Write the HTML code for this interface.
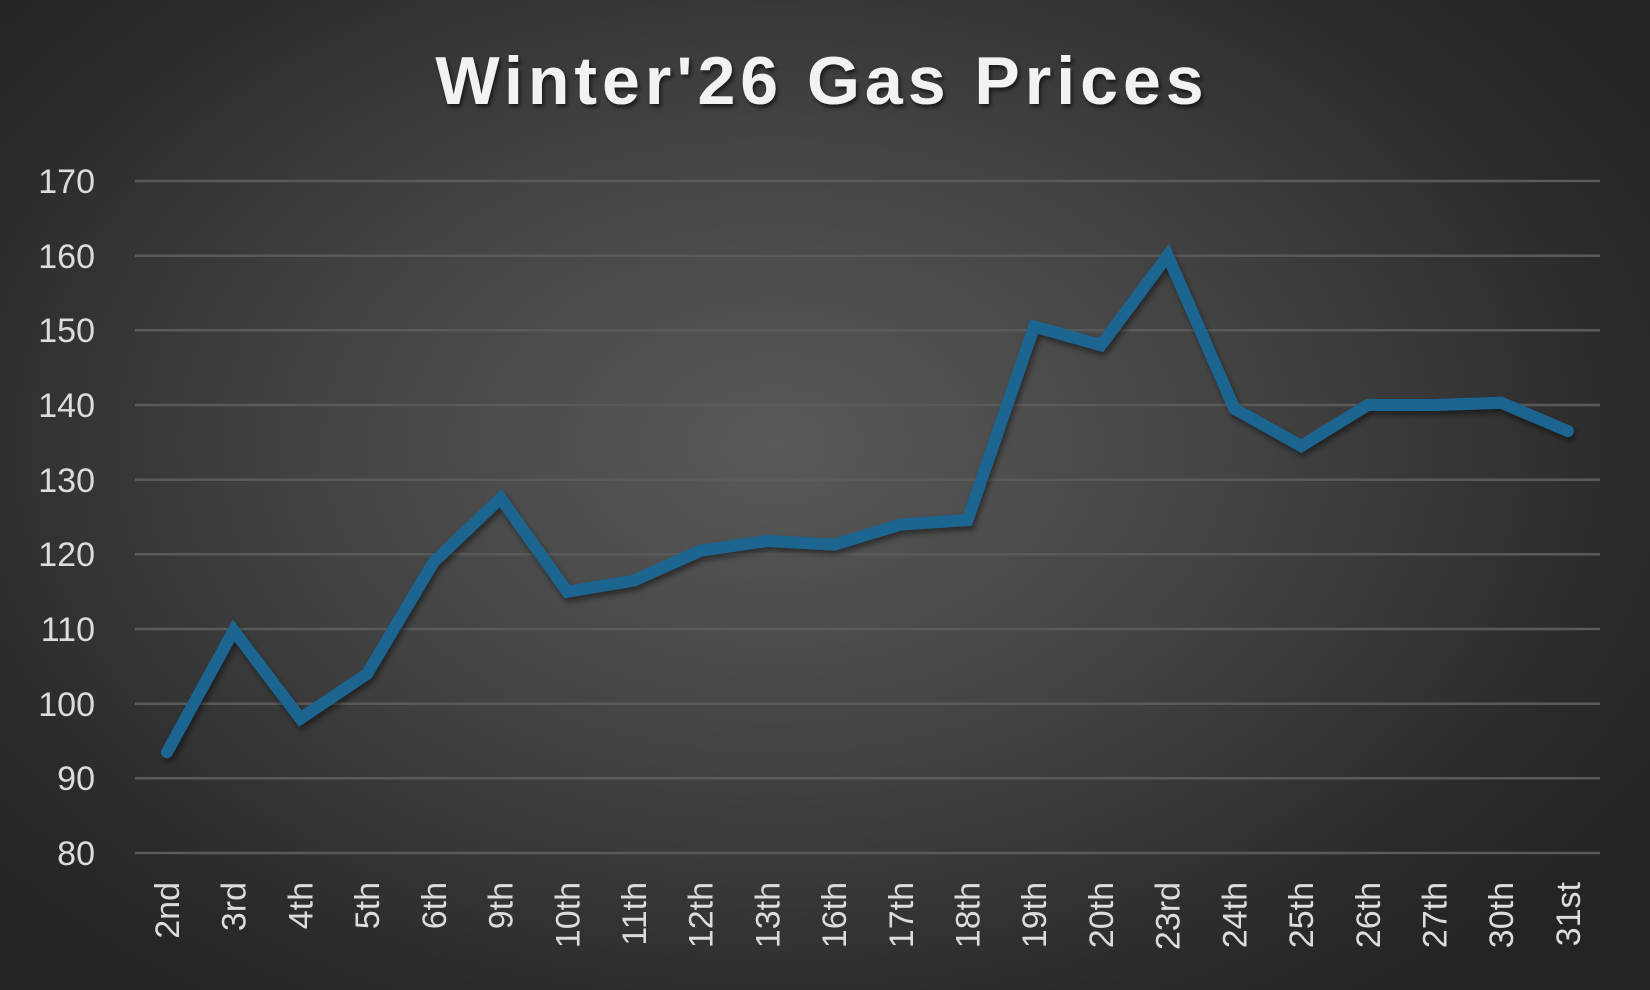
<!DOCTYPE html>
<html><head><meta charset="utf-8"><style>
html,body{margin:0;padding:0;}
body{width:1650px;height:990px;overflow:hidden;background:radial-gradient(ellipse 62% 70% at 47% 45%,#595959 0%,#434343 45%,#2a2a2a 85%,#242424 100%);}
svg{display:block;}
</style></head><body>
<svg width="1650" height="990" xmlns="http://www.w3.org/2000/svg" font-family="Liberation Sans, DejaVu Sans, sans-serif">
<defs><filter id="sh" x="-10%" y="-20%" width="120%" height="150%"><feDropShadow dx="2" dy="3" stdDeviation="2" flood-color="#000" flood-opacity="0.6"/></filter>
<filter id="ls" x="-5%" y="-10%" width="110%" height="120%"><feDropShadow dx="2" dy="4" stdDeviation="3" flood-color="#000" flood-opacity="0.45"/></filter></defs>
<text x="822" y="104" text-anchor="middle" font-size="68" font-weight="bold" fill="#f2f2f2" letter-spacing="5" filter="url(#sh)">Winter'26 Gas Prices</text>
<g stroke="#5a5a5a" stroke-width="2.5">
<line x1="135" x2="1600" y1="181" y2="181"/><line x1="135" x2="1600" y1="255.7" y2="255.7"/><line x1="135" x2="1600" y1="330.3" y2="330.3"/><line x1="135" x2="1600" y1="405" y2="405"/><line x1="135" x2="1600" y1="479.7" y2="479.7"/><line x1="135" x2="1600" y1="554.3" y2="554.3"/><line x1="135" x2="1600" y1="629" y2="629"/><line x1="135" x2="1600" y1="703.7" y2="703.7"/><line x1="135" x2="1600" y1="778.3" y2="778.3"/><line x1="135" x2="1600" y1="853" y2="853"/>
</g>
<g fill="#dcdcdc" font-size="34" text-anchor="end">
<text x="95" y="193">170</text><text x="95" y="268">160</text><text x="95" y="342">150</text><text x="95" y="417">140</text><text x="95" y="492">130</text><text x="95" y="566">120</text><text x="95" y="641">110</text><text x="95" y="716">100</text><text x="95" y="790">90</text><text x="95" y="865">80</text>
</g>
<polyline fill="none" stroke="#1c6590" stroke-width="12" stroke-linejoin="miter" stroke-linecap="round" filter="url(#ls)" points="167,752.2 233.7,630.5 300.4,718.6 367.1,673.8 433.8,561.8 500.6,498.3 567.3,591.7 634,580.5 700.7,550.6 767.4,540.9 834.1,544.6 900.8,524.5 967.5,520 1034.2,326.6 1100.9,345.2 1167.7,255.6 1234.4,408.7 1301.1,446 1367.8,405 1434.5,405 1501.2,402.7 1567.9,431.1"/>
<g fill="#dcdcdc" font-size="34" text-anchor="end">
<text transform="translate(179,882) rotate(-90)">2nd</text>
<text transform="translate(245.7,882) rotate(-90)">3rd</text>
<text transform="translate(312.4,882) rotate(-90)">4th</text>
<text transform="translate(379.1,882) rotate(-90)">5th</text>
<text transform="translate(445.8,882) rotate(-90)">6th</text>
<text transform="translate(512.6,882) rotate(-90)">9th</text>
<text transform="translate(579.3,882) rotate(-90)">10th</text>
<text transform="translate(646,882) rotate(-90)">11th</text>
<text transform="translate(712.7,882) rotate(-90)">12th</text>
<text transform="translate(779.4,882) rotate(-90)">13th</text>
<text transform="translate(846.1,882) rotate(-90)">16th</text>
<text transform="translate(912.8,882) rotate(-90)">17th</text>
<text transform="translate(979.5,882) rotate(-90)">18th</text>
<text transform="translate(1046.2,882) rotate(-90)">19th</text>
<text transform="translate(1112.9,882) rotate(-90)">20th</text>
<text transform="translate(1179.7,882) rotate(-90)">23rd</text>
<text transform="translate(1246.4,882) rotate(-90)">24th</text>
<text transform="translate(1313.1,882) rotate(-90)">25th</text>
<text transform="translate(1379.8,882) rotate(-90)">26th</text>
<text transform="translate(1446.5,882) rotate(-90)">27th</text>
<text transform="translate(1513.2,882) rotate(-90)">30th</text>
<text transform="translate(1579.9,882) rotate(-90)">31st</text>
</g>
</svg>
</body></html>
